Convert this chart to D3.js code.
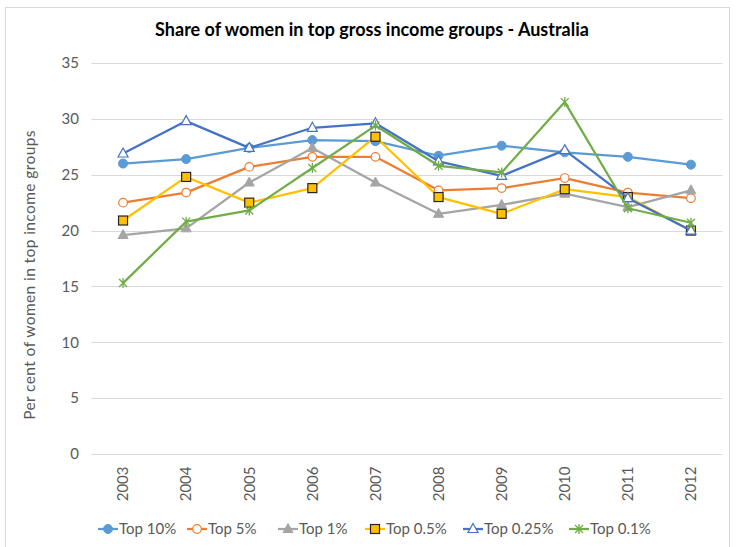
<!DOCTYPE html>
<html><head><meta charset="utf-8">
<script src="https://cdn.jsdelivr.net/npm/d3@7"></script>
<style>body{margin:0;background:#fff}svg{display:block}text{font-family:Lato,"Open Sans",sans-serif}</style>
</head><body><svg id="c" width="736" height="547"></svg>
<script>
const years = ["2003","2004","2005","2006","2007","2008","2009","2010","2011","2012"];
const seriesNames = ["Top 10%","Top 5%","Top 1%","Top 0.5%","Top 0.25%","Top 0.1%"];
const top10  = [26.0,26.4,27.4,28.1,28.0,26.7,27.6,27.0,26.6,25.9];
const top5   = [22.5,23.4,25.7,26.6,26.6,23.6,23.8,24.7,23.4,22.9];
const top1   = [19.6,20.2,24.3,27.4,24.3,21.5,22.3,23.3,22.1,23.6];
const top05  = [20.9,24.8,22.5,23.8,28.4,23.0,21.5,23.7,23.0,20.0];
const top025 = [26.9,29.8,27.4,29.2,29.6,26.2,24.9,27.2,22.9,20.0];
const top01  = [15.3,20.8,21.8,25.6,29.4,25.8,25.2,31.5,22.0,20.7];
const yTicks = [0,5,10,15,20,25,30,35];
const title = "Share of women in top gross income groups - Australia";
const yTitle = "Per cent of women in top income groups";

const colors = ["#5B9BD5","#ED7D31","#A5A5A5","#FFC000","#4472C4","#70AD47"];
const markers = ["circleFill","circleOpen","triFill","square","triOpen","star"];
const data = [top10,top5,top1,top05,top025,top01];

const svg = d3.select("#c");
svg.append("rect").attr("x",5.5).attr("y",7.5).attr("width",724).attr("height",560)
  .attr("fill","#fff").attr("stroke","#d9d9d9");

const x = d3.scaleBand().domain(years).range([91.5,722.5]);
const y = d3.scaleLinear().domain([0,35]).range([454,63]);

svg.append("text").attr("x",372).attr("y",36).attr("text-anchor","middle")
  .attr("font-size",18).attr("font-weight","bold").attr("fill","#000").text(title);

// grid
svg.append("g").selectAll("line").data(yTicks).join("line")
  .attr("x1",91.5).attr("x2",722.5).attr("y1",d=>Math.round(y(d))+0.5).attr("y2",d=>Math.round(y(d))+0.5)
  .attr("stroke","#d9d9d9").attr("stroke-width",1);

// y axis
const ya = svg.append("g").attr("transform","translate(79,0)")
  .call(d3.axisLeft(y).tickValues(yTicks).tickSize(0).tickPadding(0));
ya.select(".domain").remove();
ya.selectAll("text").attr("font-size",15).attr("fill","#595959").attr("font-family","Lato,sans-serif");

// x axis
const xa = svg.append("g").attr("transform","translate(0,454)")
  .call(d3.axisBottom(x).tickSize(0));
xa.select(".domain").remove();
xa.selectAll("text").attr("font-size",15).attr("fill","#595959").attr("font-family","Lato,sans-serif")
  .attr("transform","rotate(-90)").attr("text-anchor","end").attr("dx","-0.7em").attr("dy","0.35em").attr("y",0).attr("x",-2);

svg.append("text").attr("transform","translate(35,275) rotate(-90)").attr("text-anchor","middle")
  .attr("font-size",15.5).attr("letter-spacing","0.4").attr("fill","#595959").text(yTitle);

function drawMarker(g, type, color, cx, cy){
  if(type==="circleFill") g.append("circle").attr("cx",cx).attr("cy",cy).attr("r",4.5).attr("fill",color).attr("stroke",color);
  else if(type==="circleOpen") g.append("circle").attr("cx",cx).attr("cy",cy).attr("r",4.3).attr("fill","#fff").attr("stroke",color).attr("stroke-width",1.2);
  else if(type==="triFill") g.append("path").attr("d",`M${cx},${cy-5.5}L${cx+5},${cy+3.5}L${cx-5},${cy+3.5}Z`).attr("fill",color).attr("stroke",color);
  else if(type==="triOpen") g.append("path").attr("d",`M${cx},${cy-5.5}L${cx+5},${cy+3.5}L${cx-5},${cy+3.5}Z`).attr("fill","#fff").attr("stroke",color).attr("stroke-width",1.2);
  else if(type==="square") g.append("rect").attr("x",cx-4.5).attr("y",cy-4.5).attr("width",9).attr("height",9).attr("fill",color).attr("stroke","#262626").attr("stroke-width",1.2);
  else if(type==="star"){
    const s=4;
    g.append("path").attr("d",`M${cx-s},${cy-s}L${cx+s},${cy+s}M${cx-s},${cy+s}L${cx+s},${cy-s}M${cx},${cy-s-1}L${cx},${cy+s+1}`)
      .attr("stroke",color).attr("stroke-width",1.3).attr("fill","none");
  }
}

const line = d3.line().x((d,i)=>x(years[i])+x.bandwidth()/2).y(d=>y(d));
data.forEach((vals,si)=>{
  const g = svg.append("g");
  g.append("path").datum(vals).attr("d",line).attr("fill","none").attr("stroke",colors[si])
    .attr("stroke-width",2.25).attr("stroke-linejoin","round");
  vals.forEach((v,i)=>drawMarker(g, markers[si], colors[si], x(years[i])+x.bandwidth()/2, y(v)));
});

// legend
const legX = [98,187,278,365,463,569];
const lg = svg.append("g");
seriesNames.forEach((n,i)=>{
  const ly=529;
  lg.append("line").attr("x1",legX[i]).attr("x2",legX[i]+20).attr("y1",ly).attr("y2",ly)
    .attr("stroke",colors[i]).attr("stroke-width",2.25);
  drawMarker(lg, markers[i], colors[i], legX[i]+10, ly);
  lg.append("text").attr("x",legX[i]+21).attr("y",ly).attr("dy","0.35em").attr("font-size",15)
    .attr("fill","#595959").text(n);
});
</script></body></html>
